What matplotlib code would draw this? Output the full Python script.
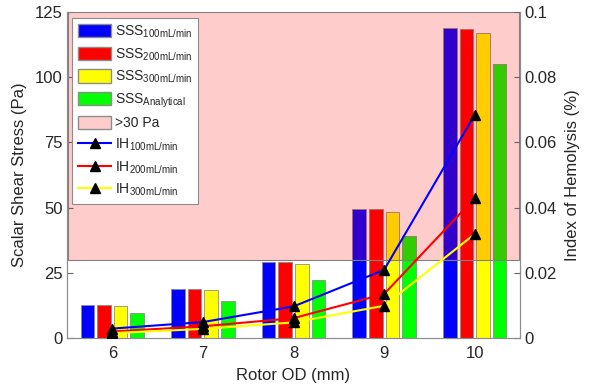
import matplotlib
matplotlib.use("Agg")
import matplotlib.pyplot as plt
import numpy as np
from matplotlib.patches import Patch
from matplotlib.lines import Line2D

plt.rcParams['font.family'] = ['Liberation Sans', 'DejaVu Sans']
plt.rcParams['mathtext.fontset'] = 'custom'
plt.rcParams['mathtext.rm'] = 'Liberation Sans'
plt.rcParams['mathtext.it'] = 'Liberation Sans'

rotor_od = [6, 7, 8, 9, 10]
sss_100 = [12.5, 18.8, 29.0, 49.4, 119.0]
sss_200 = [12.5, 18.8, 29.0, 49.4, 118.4]
sss_300 = [12.4, 18.6, 28.5, 48.5, 116.9]
sss_analytical = [9.6, 14.3, 22.1, 39.3, 105.2]
ih_100 = [0.0029, 0.0049, 0.0097, 0.0209, 0.0685]
ih_200 = [0.0020, 0.0036, 0.0061, 0.0135, 0.0429]
ih_300 = [0.0015, 0.0028, 0.0048, 0.0099, 0.0319]
threshold = 30

fig = plt.figure(figsize=(5.95, 3.89), dpi=100)
ax = fig.add_axes([0.1126, 0.131, 0.7614, 0.838])
ax2 = ax.twinx()

txt = (0.15, 0.15, 0.15)
x = np.array(rotor_od, dtype=float)
w = 0.15
step = 0.183
series = [(sss_100, (0, 0, 1)), (sss_200, (1, 0, 0)), (sss_300, (1, 1, 0)), (sss_analytical, (0, 1, 0))]
for i, (vals, c) in enumerate(series):
    ax.bar(x + (i - 1.5) * step, vals, width=w, color=c, edgecolor=(0.55, 0.55, 0.55), linewidth=0.6, zorder=2)

ax.axhspan(threshold, 125, xmin=0.002, xmax=0.998, facecolor=(1, 0, 0, 0.2), edgecolor=(0.5, 0.5, 0.5), linewidth=0.8, zorder=3)

ax.set_xlim(5.5, 10.5)
ax.set_ylim(0, 125)
ax.set_yticks([0, 25, 50, 75, 100, 125])
ax.set_xticks(rotor_od)
ax.set_xlabel('Rotor OD (mm)', fontsize=12, color=txt, labelpad=5)
ax.set_ylabel('Scalar Shear Stress (Pa)', fontsize=12, color=txt, labelpad=6)

for yv, c in [(ih_100, (0, 0, 1)), (ih_200, (1, 0, 0)), (ih_300, (1, 1, 0))]:
    ax2.plot(x, yv, color=c, linewidth=1.5, zorder=4)
    ax2.plot(x, yv, linestyle='none', marker='^', markersize=6.5, color='black', zorder=5)
ax2.set_ylim(0, 0.1)
ax2.set_yticks([0, 0.02, 0.04, 0.06, 0.08, 0.1])
ax2.set_yticklabels(['0', '0.02', '0.04', '0.06', '0.08', '0.1'])
ax2.set_ylabel('Index of Hemolysis (%)', fontsize=12, color=txt, labelpad=6)

for a in (ax, ax2):
    for s in ['top']:
        a.spines[s].set_visible(False)
    for s in ['left', 'right', 'bottom']:
        a.spines[s].set_color((0.55, 0.55, 0.55))
        a.spines[s].set_linewidth(0.8)
    a.tick_params(axis='both', direction='in', labelsize=12, colors=txt, length=4, width=0.8)
    a.tick_params(axis='y', color=(0.4, 0.4, 0.4))
ax.tick_params(axis='x', length=0, pad=6)
ax.tick_params(axis='y', pad=3)
ax2.tick_params(axis='y', pad=3)

handles = [
    Patch(facecolor=(0, 0, 1), edgecolor=(0.55, 0.55, 0.55), label='SSS$_{\\mathrm{100mL/min}}$'),
    Patch(facecolor=(1, 0, 0), edgecolor=(0.55, 0.55, 0.55), label='SSS$_{\\mathrm{200mL/min}}$'),
    Patch(facecolor=(1, 1, 0), edgecolor=(0.55, 0.55, 0.55), label='SSS$_{\\mathrm{300mL/min}}$'),
    Patch(facecolor=(0, 1, 0), edgecolor=(0.55, 0.55, 0.55), label='SSS$_{\\mathrm{Analytical}}$'),
    Patch(facecolor=(1, 0.8, 0.8), edgecolor=(0.55, 0.55, 0.55), label='>30 Pa'),
    Line2D([0], [0], color=(0, 0, 1), lw=1.5, marker='^', markersize=6.5, markerfacecolor='k', markeredgecolor='k', label='IH$_{\\mathrm{100mL/min}}$'),
    Line2D([0], [0], color=(1, 0, 0), lw=1.5, marker='^', markersize=6.5, markerfacecolor='k', markeredgecolor='k', label='IH$_{\\mathrm{200mL/min}}$'),
    Line2D([0], [0], color=(1, 1, 0), lw=1.5, marker='^', markersize=6.5, markerfacecolor='k', markeredgecolor='k', label='IH$_{\\mathrm{300mL/min}}$'),
]
leg = ax2.legend(handles=handles, loc='upper left', bbox_to_anchor=(0.012, 0.982), fontsize=10,
                 frameon=True, fancybox=False, edgecolor=(0.55, 0.55, 0.55), framealpha=1,
                 handlelength=2.4, handleheight=1.1, handletextpad=0.25, labelspacing=0.45,
                 borderpad=0.4, borderaxespad=0)
leg.get_frame().set_linewidth(0.8)
for t in leg.get_texts():
    t.set_color(txt)

fig.savefig('out.png', dpi=100)
